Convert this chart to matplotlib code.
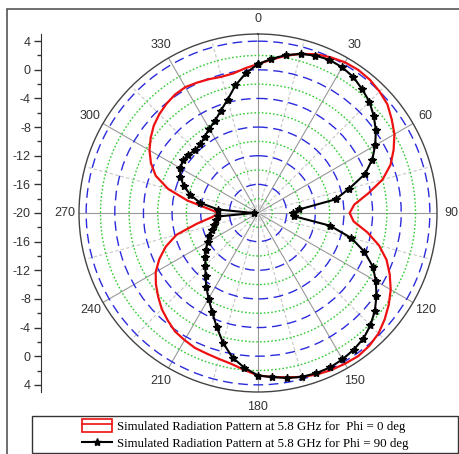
import numpy as np
import matplotlib
matplotlib.use("Agg")
import matplotlib.pyplot as plt
from matplotlib.patches import Patch, Rectangle
from matplotlib.lines import Line2D

# angles in degrees (clockwise from top), gain in dB
angles = list(range(0, 360, 5))

phi0 = [0.8, 1.5, 2.3, 3.0, 3.6, 4.0, 4.3, 4.4, 4.3, 4.0, 3.6, 2.8,
        2.0, 0.9, -0.3, -2.0, -4.4, -6.5, -7.2, -6.6, -4.5, -2.5, -0.9, 0.3,
        1.4, 2.3, 3.1, 3.8, 4.2, 4.4, 4.3, 4.2, 4.0, 3.7, 3.3, 3.0,
        2.7, 2.0, 1.4, 1.1, 0.9, 0.8, 0.5, 0.2, -0.4, -1.0, -1.8, -2.6,
        -3.5, -4.8, -6.3, -8.2, -11.3, -13.6, -14.5, -13.0, -10.0, -7.0, -4.8, -3.5,
        -2.5, -1.7, -1.0, -0.5, -0.1, 0.2, 0.3, 0.1, -0.1, -0.3, -0.2, 0.3]

phi90 = [0.8, 1.6, 2.4, 3.0, 3.4, 3.6, 3.5, 3.2, 2.6, 2.0, 1.1, 0.1,
         -1.1, -2.4, -4.1, -6.8, -9.0, -14.2, -15.1, -15.0, -9.8, -6.5, -4.2, -2.3,
         -1.0, 0.2, 1.3, 2.2, 2.9, 3.3, 3.6, 3.8, 3.8, 3.7, 3.4, 3.0,
         2.7, 1.7, 0.5, -1.2, -3.1, -4.8, -6.2, -7.4, -8.6, -9.6, -10.4, -11.1,
         -11.9, -12.5, -13.1, -13.6, -14.0, -14.4, -19.4, -14.4, -11.8, -10.2, -9.0, -8.0,
         -7.5, -7.2, -7.3, -7.6, -7.5, -7.0, -6.4, -5.8, -4.8, -3.6, -1.9, -0.4]

labels = ["Simulated Radiation Pattern at 5.8 GHz for  Phi = 0 deg",
          "Simulated Radiation Pattern at 5.8 GHz for Phi = 90 deg"]

plt.rcParams['font.family'] = ['Liberation Sans', 'DejaVu Sans']

W, H = 459, 454
fig = plt.figure(figsize=(W / 100, H / 100), dpi=100)

cx, cy, R = 258, 213, 179
ax = fig.add_axes([(cx - R) / W, (H - cy - R) / H, 2 * R / W, 2 * R / H],
                  projection='polar')
ax.set_theta_zero_location('N')
ax.set_theta_direction(-1)
ax.set_ylim(-20, 5)
ax.set_axisbelow(True)

th = np.deg2rad(angles + [360])
r0 = phi0 + phi0[:1]
r90 = phi90 + phi90[:1]
ax.plot(th, r0, color='#ee1111', lw=1.6, zorder=3)
ax.plot(th, r90, color='black', lw=1.5, marker='*', ms=6, zorder=4)

# theta grid
ax.set_xticks(np.deg2rad(np.arange(0, 360, 30)))
ax.set_xticklabels([str(a) for a in range(0, 360, 30)], color='#333333', fontsize=9)
ax.set_xticks(np.deg2rad(np.arange(15, 360, 30)), minor=True)
ax.xaxis.grid(True, which='major', color='#999999', lw=0.8, ls='-')
ax.xaxis.grid(True, which='minor', color='#c8c8c8', lw=0.8, ls=(0, (3, 2)))
ax.tick_params(axis='x', pad=0)

# radial grid
ax.set_yticks(np.arange(-16, 5, 4))
ax.set_yticks(np.arange(-18, 4, 4), minor=True)
ax.set_yticklabels([])
ax.yaxis.grid(True, which='major', color='#2b2bdd', lw=1.0, ls=(0, (7, 4)))
ax.yaxis.grid(True, which='minor', color='#33cc33', lw=1.0, ls=(0, (1.2, 1.5)))
ax.tick_params(axis='y', which='both', length=0)
ax.spines['polar'].set_color('#444444')
ax.spines['polar'].set_linewidth(1.0)

# separate radial scale on the left
ax2 = fig.add_axes([40.7 / W, (H - cy - R) / H, 0.001, 2 * R / H])
ax2.set_ylim(-25, 25)
for s in ['top', 'right', 'bottom']:
    ax2.spines[s].set_visible(False)
ax2.spines['left'].set_color('#333333')
ax2.set_xticks([])
yt = np.arange(-24, 25, 4)
ax2.set_yticks(yt)
ax2.set_yticklabels([str(abs(v) - 20) for v in yt], color='#333333', fontsize=9)
ax2.set_yticks(np.arange(-22, 25, 4), minor=True)
ax2.tick_params(axis='y', which='major', length=5, width=1, color='#333333', pad=2)
ax2.tick_params(axis='y', which='minor', length=3, width=1, color='#333333')
ax2.patch.set_visible(False)

# outer frame and legend box
fig.patches.append(Rectangle((7 / W, -0.1), 1.2, 1.1 - 9 / H, transform=fig.transFigure,
                             fill=False, ec='#555555', lw=1.2))
fig.patches.append(Rectangle((32 / W, 1 - 453 / H), 426 / W, 37 / H, transform=fig.transFigure,
                             fill=False, ec='#333333', lw=1.0))

h0 = (Patch(fc='none', ec='#ee1111', lw=1.2), Line2D([], [], color='#ee1111', lw=1.2))
h90 = Line2D([], [], color='black', lw=1.5, marker='*', ms=6)
fig.legend([h0, h90], labels, loc='center', bbox_to_anchor=(245 / W, 1 - 434.5 / H),
           frameon=False, prop={'family': 'Liberation Serif', 'size': 9.3},
           handlelength=2.3, handletextpad=0.4, labelspacing=0.28, handleheight=1.1,
           borderpad=0)

fig.savefig('out.png', dpi=100)
